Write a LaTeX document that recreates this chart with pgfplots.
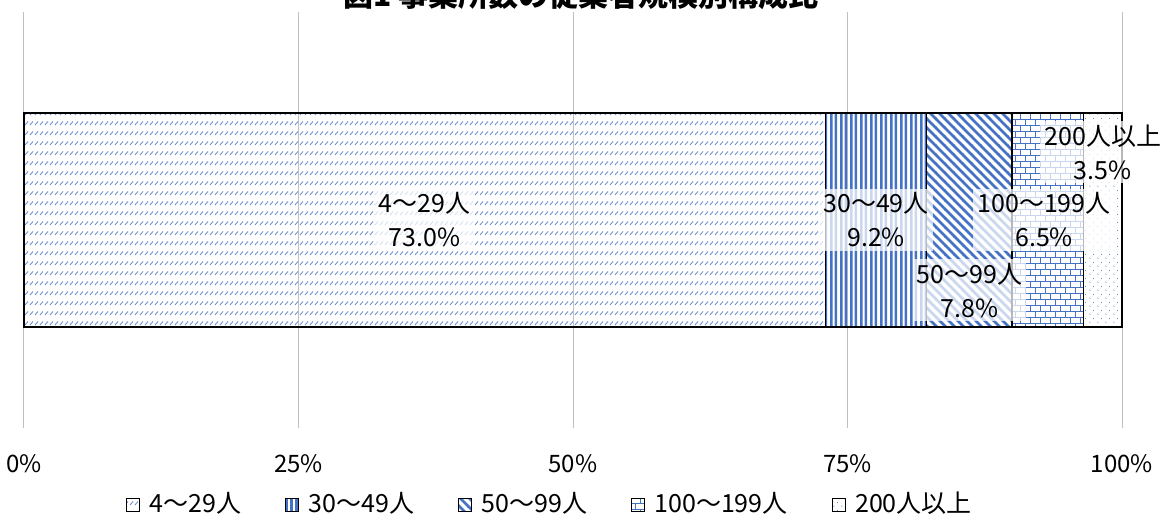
\documentclass[border=0pt]{standalone}
\usepackage{fontspec}
\setmainfont{Noto Sans CJK JP}
\usepackage{pgfplots}
\pgfplotsset{compat=1.18}
\usetikzlibrary{patterns}

\definecolor{pblue}{RGB}{68,114,196}
\definecolor{plight}{RGB}{110,145,210}
\definecolor{gridgray}{RGB}{191,191,191}

\tikzset{lbl/.style={align=center, inner sep=4pt, font=\fontsize{25}{34}\selectfont,
    preaction={fill=white, fill opacity=0.72}}}

\pgfdeclarepatternformonly{dashdiag}{\pgfqpoint{-1pt}{-1pt}}{\pgfqpoint{6pt}{11pt}}{\pgfqpoint{5pt}{10pt}}{%
  \pgfsetlinewidth{0.9pt}%
  \pgfpathmoveto{\pgfqpoint{0pt}{0pt}}\pgfpathlineto{\pgfqpoint{3pt}{3.5pt}}\pgfusepath{stroke}}
\pgfdeclarepatternformonly{wvert}{\pgfqpoint{0pt}{0pt}}{\pgfqpoint{10pt}{20pt}}{\pgfqpoint{10pt}{20pt}}{%
  \pgfpathrectangle{\pgfqpoint{0pt}{-1pt}}{\pgfqpoint{2.8pt}{22pt}}%
  \pgfpathrectangle{\pgfqpoint{5pt}{-1pt}}{\pgfqpoint{2.8pt}{22pt}}\pgfusepath{fill}}
\pgfdeclarepatternformonly{wdiag}{\pgfqpoint{-1pt}{-1pt}}{\pgfqpoint{10pt}{10pt}}{\pgfqpoint{9pt}{9pt}}{%
  \pgfsetlinewidth{2.6pt}%
  \pgfpathmoveto{\pgfqpoint{-1pt}{10pt}}\pgfpathlineto{\pgfqpoint{10pt}{-1pt}}\pgfusepath{stroke}}
\pgfdeclarepatternformonly{mybricks}{\pgfqpoint{-0.5pt}{-0.5pt}}{\pgfqpoint{10.5pt}{12.5pt}}{\pgfqpoint{10pt}{12pt}}{%
  \pgfsetlinewidth{0.8pt}%
  \pgfpathmoveto{\pgfqpoint{0pt}{0pt}}\pgfpathlineto{\pgfqpoint{10pt}{0pt}}%
  \pgfpathmoveto{\pgfqpoint{0pt}{6pt}}\pgfpathlineto{\pgfqpoint{10pt}{6pt}}%
  \pgfpathmoveto{\pgfqpoint{0pt}{0pt}}\pgfpathlineto{\pgfqpoint{0pt}{6pt}}%
  \pgfpathmoveto{\pgfqpoint{5pt}{6pt}}\pgfpathlineto{\pgfqpoint{5pt}{12pt}}%
  \pgfusepath{stroke}}
\pgfdeclarepatternformonly{mydots}{\pgfqpoint{0pt}{0pt}}{\pgfqpoint{8pt}{8pt}}{\pgfqpoint{8pt}{8pt}}{%
  \pgfpathcircle{\pgfqpoint{2pt}{2pt}}{0.6pt}%
  \pgfpathcircle{\pgfqpoint{6pt}{6pt}}{0.6pt}%
  \pgfusepath{fill}}

\begin{document}
\begin{tikzpicture}
\useasboundingbox (-24pt,-87pt) rectangle (1143pt,428pt);
\begin{axis}[
  scale only axis, width=1098pt, height=416pt,
  xmin=0, xmax=100, ymin=-1, ymax=1,
  xbar stacked, bar width=214pt,
  xtick={0,25,50,75,100},
  xticklabels={0\%,25\%,50\%,75\%,100\%},
  ytick=\empty,
  axis line style={draw=none},
  tick style={draw=none},
  major tick length=0pt,
  xmajorgrids, grid style={gridgray, line width=1pt},
  xticklabel style={font=\fontsize{24}{28}\selectfont, anchor=base, yshift=-44pt},
  legend columns=5,
  legend style={draw=none, fill=none, at={(0.479,-0.181)}, anchor=center,
    font=\fontsize{25}{30}\selectfont, inner sep=0pt,
    /tikz/every even column/.append style={column sep=42pt}},
  legend image code/.code={\draw[#1, line width=1.2pt] (0pt,-8pt) rectangle (13pt,5pt); \path (20pt,0pt);},
  clip=false,
]
\addplot[draw=black, line width=1.7pt, pattern=dashdiag, pattern color=plight] coordinates {(73.0,0)};
\addlegendentry{4～29人}
\addplot[draw=black, line width=1.7pt, pattern=wvert, pattern color=pblue] coordinates {(9.2,0)};
\addlegendentry{30～49人}
\addplot[draw=black, line width=1.7pt, pattern=wdiag, pattern color=pblue] coordinates {(7.8,0)};
\addlegendentry{50～99人}
\addplot[draw=black, line width=1.7pt, pattern=mybricks, pattern color=pblue] coordinates {(6.5,0)};
\addlegendentry{100～199人}
\addplot[draw=black, line width=1.7pt, pattern=mydots, pattern color=pblue] coordinates {(3.5,0)};
\addlegendentry{200人以上}

\coordinate (L1) at (axis cs:36.5,0);
\coordinate (L2) at (axis cs:77.6,0);
\coordinate (L3) at (axis cs:86.1,-0.337);
\coordinate (L4) at (axis cs:92.9,0);
\coordinate (L5) at (axis cs:98.25,0.327);
\end{axis}
\node[lbl] at (L1) {4～29人\\73.0\%};
\node[lbl] at (L2) {30～49人\\9.2\%};
\node[lbl] at (L3) {50～99人\\7.8\%};
\node[lbl] at (L4) {100～199人\\6.5\%};
\node[lbl] at (L5) {200人以上\\3.5\%};
\node[font=\fontsize{30}{36}\selectfont\bfseries, anchor=base] at (557pt,421pt) {図1\ 事業所数の従業者規模別構成比};
\end{tikzpicture}
\end{document}
